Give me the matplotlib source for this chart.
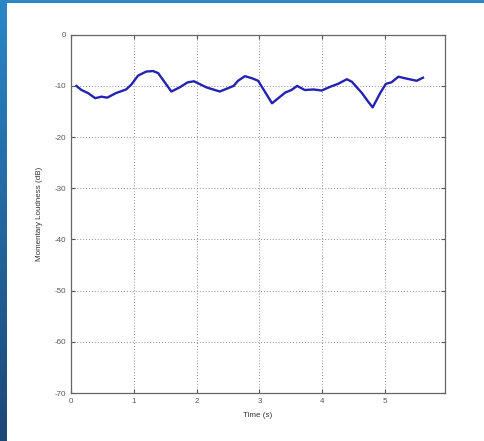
import numpy as np
import matplotlib.pyplot as plt
from matplotlib.colors import LinearSegmentedColormap

# Momentary loudness over time
time_s = [0.09, 0.17, 0.275, 0.39, 0.49, 0.58, 0.72, 0.88, 0.96, 1.07, 1.2, 1.31,
          1.39, 1.6, 1.73, 1.86, 1.96, 2.16, 2.37, 2.59, 2.66, 2.77, 2.88, 2.98,
          3.2, 3.41, 3.51, 3.6, 3.72, 3.86, 3.99, 4.12, 4.25, 4.39, 4.47, 4.63,
          4.73, 4.8, 4.92, 5.01, 5.1, 5.21, 5.31, 5.5, 5.6]
loudness_db = [-10.0, -10.8, -11.4, -12.4, -12.1, -12.3, -11.4, -10.7, -9.8, -8.0,
               -7.2, -7.1, -7.5, -11.1, -10.3, -9.3, -9.1, -10.3, -11.1, -10.0,
               -9.0, -8.1, -8.5, -9.0, -13.4, -11.3, -10.8, -10.0, -10.8, -10.7,
               -10.9, -10.2, -9.6, -8.7, -9.2, -11.4, -13.1, -14.2, -11.4, -9.6,
               -9.3, -8.2, -8.5, -9.0, -8.4]
x_ticks = [0, 1, 2, 3, 4, 5]
y_ticks = [0, -10, -20, -30, -40, -50, -60, -70]

plt.rcParams['font.family'] = 'Liberation Sans'
plt.rcParams['axes.unicode_minus'] = False

fig = plt.figure(figsize=(4.85, 4.41), dpi=100)
fig.patch.set_facecolor('white')

# blue slide border: gradient strip on the left, thin bar on top
strip = fig.add_axes([0, 0, 7 / 485, 1])
cmap = LinearSegmentedColormap.from_list('edge', ['#1d4777', '#2a86c8'])
strip.imshow(np.linspace(0, 1, 256).reshape(-1, 1), aspect='auto', cmap=cmap,
             origin='lower')
strip.axis('off')
top = fig.add_axes([0, 1 - 3 / 441, 1, 3 / 441])
top.set_facecolor('#2c86c6')
top.set_xticks([])
top.set_yticks([])
for s in top.spines.values():
    s.set_visible(False)

ax = fig.add_axes([0.1458, 0.1088, 0.7717, 0.8125])
ax.plot(time_s, loudness_db, color='#2323b0', linewidth=1.7)

ax.set_xlim(0, 5.95)
ax.set_ylim(-70, 0)
ax.set_xticks(x_ticks)
ax.set_yticks(y_ticks)
ax.grid(True, linestyle=(0, (1, 2)), color='#909090', linewidth=0.7)
ax.tick_params(direction='in', length=3, width=0.8, colors='#555555',
               labelsize=5.8, top=True, right=True)
for s in ax.spines.values():
    s.set_color('#666666')
    s.set_linewidth(0.9)

ax.set_xlabel('Time (s)', fontsize=5.8, color='#333333', labelpad=5)
ax.set_ylabel('Momentary Loudness (dB)', fontsize=5.8, color='#333333', labelpad=8)

fig.savefig('out.png', dpi=100)
